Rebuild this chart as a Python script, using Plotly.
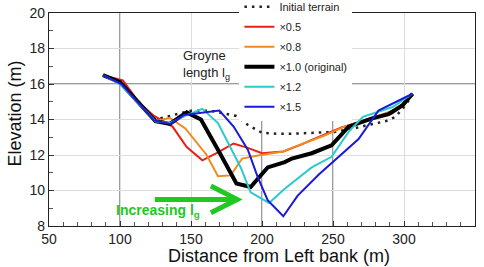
import plotly.graph_objects as go

# ---- data ----
x_init = [88, 100, 125, 140, 150, 163, 173, 182, 190, 200, 210, 221, 251, 265, 275, 287, 294, 301, 306]
y_init = [16.5, 16.1, 14.0, 14.3, 14.5, 14.5, 14.35, 14.2, 13.7, 13.25, 13.2, 13.2, 13.3, 13.5, 13.7, 13.9, 14.15, 14.8, 15.4]

x_05 = [88, 102, 114, 124, 137, 147, 158, 168, 180, 190, 200, 215, 228, 235, 256, 275, 291, 300, 306]
y_05 = [16.5, 16.2, 14.9, 14.2, 13.6, 12.45, 11.7, 12.1, 12.65, 12.4, 12.1, 12.2, 12.6, 12.85, 13.55, 14.0, 14.3, 14.8, 15.45]

x_08 = [88, 100, 125, 135, 146, 161, 169, 178, 186, 199, 215, 221, 244, 258, 280, 295, 306]
y_08 = [16.5, 16.0, 13.9, 14.1, 13.5, 12.0, 10.8, 10.85, 11.8, 12.0, 12.2, 12.4, 13.1, 13.6, 14.15, 14.6, 15.45]

x_10 = [88, 100, 125, 135, 147, 157, 169, 178, 182, 192, 204, 216, 221, 235, 249, 261, 277, 289, 299, 306]
y_10 = [16.5, 16.1, 13.9, 13.75, 14.4, 14.0, 12.3, 10.95, 10.4, 10.2, 11.3, 11.6, 11.8, 12.1, 12.55, 13.6, 14.05, 14.3, 14.8, 15.45]

x_12 = [88, 100, 125, 135, 147, 158, 169, 185, 192, 205, 216, 235, 249, 261, 271, 280, 292, 306]
y_12 = [16.5, 16.0, 13.9, 13.8, 14.25, 14.6, 13.8, 11.3, 9.9, 9.3, 10.1, 11.3, 11.9, 13.3, 14.15, 14.4, 14.7, 15.45]

x_15 = [88, 101, 124, 135.5, 145, 170, 180, 190, 197, 204, 215, 225, 240, 251, 268, 282, 292, 306]
y_15 = [16.5, 16.0, 13.95, 13.75, 14.25, 14.5, 13.6, 12.3, 10.75, 9.45, 8.55, 9.7, 10.9, 11.7, 12.9, 14.5, 14.9, 15.45]

x_ticks = [50, 100, 150, 200, 250, 300, 350]
y_ticks = [8, 10, 12, 14, 16, 18, 20]

FONT = "Liberation Sans, Arial, sans-serif"
GREEN = "#22c822"

fig = go.Figure()

series = [
    ("Initial terrain", x_init, y_init, dict(color="#222222", width=2.5, dash="2.5px,5px"), 1),
    ("×0.5", x_05, y_05, dict(color="#e8201a", width=2), 2),
    ("×0.8", x_08, y_08, dict(color="#f28a1e", width=2), 3),
    ("×1.0 (original)", x_10, y_10, dict(color="#000000", width=4), 4),
    ("×1.2", x_12, y_12, dict(color="#2ccaca", width=2), 5),
    ("×1.5", x_15, y_15, dict(color="#1a1ad8", width=2), 6),
]
for name, xs, ys, line, rank in series:
    fig.add_trace(go.Scatter(x=xs, y=ys, mode="lines", name=name, line=line,
                             legendrank=rank, legendgroup=name))

# darker grid lines (as rendered in reference)
shapes = []
for xv in [100, 200, 250]:
    shapes.append(dict(type="line", xref="x", yref="paper", x0=xv, x1=xv, y0=0, y1=1,
                       line=dict(color="#3a3a3a", width=1), layer="below"))
shapes.append(dict(type="line", xref="paper", yref="y", x0=0, x1=1, y0=16, y1=16,
                   line=dict(color="#3a3a3a", width=1), layer="below"))
# brace next to legend
shapes.append(dict(type="path", xref="x", yref="y",
                   path="M 199,19.0 C 184,18.6 180,15.6 190.5,14.6",
                   line=dict(color="#111111", width=1.3)))
# green arrow
shapes.append(dict(type="path", xref="x", yref="y",
                   path="M 124.5,9.5 L 182,9.5 M 164,10.25 L 182.5,9.5 L 164,8.75",
                   line=dict(color=GREEN, width=5)))

fig.update_layout(
    width=484, height=267,
    margin=dict(l=49, r=9, t=13, b=41, autoexpand=False),
    paper_bgcolor="white", plot_bgcolor="white",
    font=dict(family=FONT, color="#222222"),
    showlegend=True,
    legend=dict(x=0.447, y=1.098, xanchor="left", yanchor="top",
                bgcolor="white", borderwidth=0,
                font=dict(size=11, color="#222222", family=FONT),
                traceorder="grouped", tracegroupgap=1, itemwidth=30),
    shapes=shapes,
    annotations=[
        dict(x=143.3, y=17.07, xref="x", yref="y", xanchor="left", yanchor="middle",
             align="left", showarrow=False,
             text="Groyne<br>length l<sub>g</sub>",
             font=dict(size=13, color="#222222", family=FONT)),
        dict(x=127, y=8.85, xref="x", yref="y", xanchor="center", yanchor="middle",
             showarrow=False, text="<b>Increasing l<sub>g</sub></b>",
             font=dict(size=14, color=GREEN, family=FONT)),
        dict(x=0.539, y=-0.142, xref="paper", yref="paper", xanchor="center", yanchor="middle",
             showarrow=False, text="Distance from Left bank (m)",
             font=dict(size=18, color="#111111", family=FONT)),
        dict(x=-0.079, y=0.53, xref="paper", yref="paper", xanchor="center", yanchor="middle",
             showarrow=False, text="Elevation (m)", textangle=-90,
             font=dict(size=18, color="#111111", family=FONT)),
    ],
)

fig.update_xaxes(range=[50, 350], tickvals=x_ticks, ticks="inside", ticklen=5,
                 tickcolor="#333", showline=True, linecolor="#222", linewidth=1.2, mirror=True,
                 showgrid=True, gridcolor="#dddddd", gridwidth=1, zeroline=False,
                 minor=dict(dtick=10, ticks="inside", ticklen=4, tickcolor="#555", showgrid=False),
                 tickfont=dict(size=14, color="#222222"))
fig.update_yaxes(range=[8, 20], tickvals=y_ticks, ticks="inside", ticklen=5,
                 tickcolor="#333", showline=True, linecolor="#222", linewidth=1.2, mirror=True,
                 showgrid=True, gridcolor="#dddddd", gridwidth=1, zeroline=False,
                 minor=dict(dtick=1, ticks="inside", ticklen=4, tickcolor="#555", showgrid=False),
                 tickfont=dict(size=14, color="#222222"))

fig.write_html("out.html", config={"displayModeBar": False},
               post_script="document.body.style.margin='0';")
